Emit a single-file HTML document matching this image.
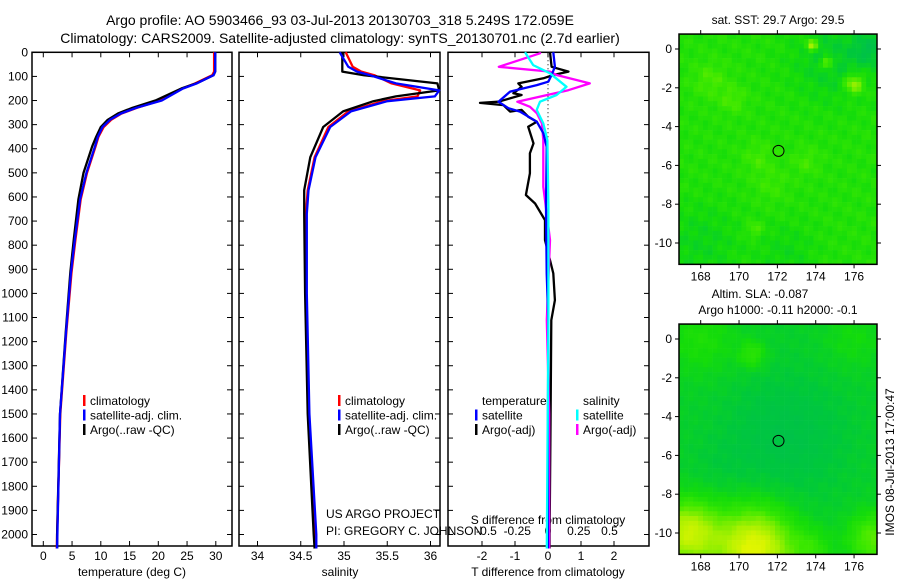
<!DOCTYPE html>
<html><head><meta charset="utf-8"><style>
body{margin:0;background:#fff;}
svg{display:block;font-family:"Liberation Sans",sans-serif;}
text{font-size:12px;fill:#000;}
</style></head><body>
<svg id="c" width="900" height="580" xmlns="http://www.w3.org/2000/svg">
<text x="340" y="25" text-anchor="middle" style="font-size:14px">Argo profile: AO 5903466_93 03-Jul-2013 20130703_318 5.249S 172.059E</text>
<text x="340" y="43" text-anchor="middle" style="font-size:14px">Climatology: CARS2009. Satellite-adjusted climatology: synTS_20130701.nc (2.7d earlier)</text>
<text x="326" y="518">US ARGO PROJECT</text>
<text x="326" y="535">PI: GREGORY C. JOHNSON</text>
<text transform="translate(894,462) rotate(-90)" text-anchor="middle">IMOS 08-Jul-2013 17:00:47</text>
<g id="maps"></g><g id="panels"></g>
</svg>
<script>
// ---- data ----
const depthTicks=[0,100,200,300,400,500,600,700,800,900,1000,1100,1200,1300,1400,1500,1600,1700,1800,1900,2000];
const tempTicks=[0,5,10,15,20,25,30];
const salTicks=[34,34.5,35,35.5,36];
const tdTicks=[-2,-1,0,1,2];
const sdTicks=[-0.5,-0.25,0,0.25,0.5];
const sdTickLabels=["-0.5","-0.25","0","0.25","0.5"];
const tDepth=[0,80,95,129,150,200,230,254,280,310,350,390,500,610,775,914,1163,1500,2000,2058];
const tArgo=[29.9,29.9,29.6,26.6,24.0,19.5,15.5,13.0,11.2,10.0,9.2,8.5,7.0,6.1,5.3,4.7,3.9,2.9,2.4,2.4];
const tClim=[29.7,29.7,29.4,26.4,24.2,20.3,16.3,13.6,11.8,10.5,9.6,9.1,7.6,6.5,5.6,4.9,4.0,2.95,2.4,2.35];
const tSat=[29.9,29.9,29.6,26.7,24.3,20.6,16.2,13.5,11.6,10.3,9.5,9.0,7.5,6.4,5.5,4.8,3.95,2.9,2.45,2.4];
const sDepth=[0,60,80,95,129,158,183,203,245,310,435,572,670,1000,1500,2000,2058];
const sArgo=[34.98,34.98,34.98,35.23,36.08,36.1,35.6,35.34,34.99,34.76,34.61,34.54,34.54,34.55,34.58,34.65,34.66];
const sClim=[35.02,35.1,35.2,35.35,35.55,35.88,35.85,35.45,35.05,34.82,34.66,34.58,34.56,34.56,34.59,34.67,34.68];
const sSat=[34.95,35.05,35.15,35.3,35.6,36.1,36.05,35.5,35.08,34.84,34.67,34.59,34.57,34.57,34.6,34.68,34.68];
const dtArgoDepth=[0,60,80,94,108,129,143,170,177,205,210,219,246,239,267,288,309,378,419,502,592,627,696,779,862,917,1028,1111,1500,2000,2058];
const dtArgo=[0.06,0.11,0.62,0.16,-0.14,-0.9,-0.8,-1.05,-0.8,-1.5,-2.06,-1.35,-1.15,-0.8,-0.6,-0.34,-0.6,-0.44,-0.55,-0.55,-0.67,-0.39,-0.09,-0.09,0.06,0.16,0.21,0.1,0.08,0.05,0.05];
const dtSatDepth=[0,60,94,122,136,163,205,232,246,288,336,392,641,917,1111,1500,2058];
const dtSat=[0.16,0.21,0.11,0.01,-0.34,-1.15,-1.5,-1.2,-0.85,-0.34,-0.14,-0.04,-0.06,-0.04,0.01,0.0,0.0];
const dsArgoDepth=[0,4,60,80,94,129,157,205,226,253,295,364,558,723,779,1111,1500,2058];
const dsArgo=[-0.065,-0.065,-0.40,0.016,0.07,0.34,0.165,-0.25,-0.146,-0.09,-0.05,-0.038,-0.038,0.003,0.016,-0.01,0.01,0.01];
const dsSatDepth=[0,53,87,143,177,205,239,295,364,641,1111,2058];
const dsSat=[-0.187,-0.12,0.016,0.15,0.07,-0.065,-0.092,-0.038,-0.005,0.003,0.003,-0.01];
const lonTicks=[168,170,172,174,176];
const latTicks=[0,-2,-4,-6,-8,-10];
const argoLon=172.059, argoLat=-5.249;

const NS="http://www.w3.org/2000/svg";
function mk(tag,attrs,parent){const e=document.createElementNS(NS,tag);for(const k in attrs)e.setAttribute(k,attrs[k]);parent.appendChild(e);return e;}
const P=document.getElementById('panels');
const top_=52.3, bot=546;
const yD=d=>top_+d*0.2411;
const panels=[{x0:32,x1:232},{x0:239,x1:440},{x0:448,x1:649}];
const xT=v=>43.3+v*5.75;
const xS=v=>257.5+(v-34)*86.5;
const xTD=v=>548+v*33;
const xSD=v=>548+v*123;

panels.forEach((p,i)=>{
  const r=mk('rect',{x:p.x0,y:top_,width:p.x1-p.x0,height:bot-top_,fill:'none',stroke:'#000','stroke-width':1.5},P);
  
  
  depthTicks.forEach(d=>{
    mk('line',{x1:p.x0,x2:p.x0+5,y1:yD(d),y2:yD(d),stroke:'#000'},P);
    mk('line',{x1:p.x1-5,x2:p.x1,y1:yD(d),y2:yD(d),stroke:'#000'},P);
  });
});
depthTicks.forEach(d=>{
  const t=mk('text',{x:28,y:yD(d)+4,'text-anchor':'end'},P);t.textContent=d;
  
  
});
function xAxis(ticks,labels,fx,y,ty){
  ticks.forEach((v,i)=>{
    const x=fx(v);
    mk('line',{x1:x,x2:x,y1:top_,y2:top_+5,stroke:'#000'},P);
    mk('line',{x1:x,x2:x,y1:bot-5,y2:bot,stroke:'#000'},P);
    const t=mk('text',{x:x,y:ty,'text-anchor':'middle'},P);t.textContent=labels?labels[i]:v;
    
    
  });
}
xAxis(tempTicks,null,xT,bot,560);
xAxis(salTicks,null,xS,bot,560);
xAxis(tdTicks,null,xTD,bot,560);
sdTicks.forEach((v,i)=>{const t=mk('text',{x:xSD(v),y:535,'text-anchor':'middle'},P);t.textContent=sdTickLabels[i];
  
  });
[[132,'temperature (deg C)','x-axis-title-temperature'],[340,'salinity','x-axis-title-salinity'],[548,'T difference from climatology','x-axis-title-t-diff']].forEach(a=>{
  const t=mk('text',{x:a[0],y:576,'text-anchor':'middle'},P);t.textContent=a[1];
  
  
});
{const t=mk('text',{x:548,y:524,'text-anchor':'middle'},P);t.textContent='S difference from climatology';

}
mk('line',{x1:548,x2:548,y1:top_,y2:bot,stroke:'#000','stroke-dasharray':'1,3'},P);

function line(ds,vs,fx,col,name,w){
  const pts=ds.map((d,i)=>fx(vs[i]).toFixed(1)+','+yD(d).toFixed(1)).join(' ');
  const l=mk('polyline',{points:pts,fill:'none',stroke:col,'stroke-width':w||2.3,'stroke-linejoin':'round'},P);
  
  
}
line(tDepth,tClim,xT,'#ff0000','temp-climatology-line');
line(tDepth,tArgo,xT,'#000000','temp-argo-line');
line(tDepth,tSat,xT,'#0000ff','temp-satellite-line');
line(sDepth,sClim,xS,'#ff0000','sal-climatology-line');
line(sDepth,sArgo,xS,'#000000','sal-argo-line');
line(sDepth,sSat,xS,'#0000ff','sal-satellite-line');
line(dtArgoDepth,dtArgo,xTD,'#000000','tdiff-argo-line');
line(dsArgoDepth,dsArgo,xSD,'#ff00ff','sdiff-argo-line');
line(dtSatDepth,dtSat,xTD,'#0000ff','tdiff-satellite-line');
line(dsSatDepth,dsSat,xSD,'#00ffff','sdiff-satellite-line');

function leg(x,y,col,txt){
  if(col){const m=mk('rect',{x:x,y:y-6,width:2.5,height:11,fill:col},P);
  
  }
  const t=mk('text',{x:x+7,y:y+4},P);t.textContent=txt;
  
  
}
[[83,'#ff0000','climatology'],[83,'#0000ff','satellite-adj. clim.'],[83,'#000','Argo(..raw -QC)']].forEach((a,i)=>leg(a[0],401+i*14.5,a[1],a[2]));
[[338,'#ff0000','climatology'],[338,'#0000ff','satellite-adj. clim.'],[338,'#000','Argo(..raw -QC)']].forEach((a,i)=>leg(a[0],401+i*14.5,a[1],a[2]));
leg(475,401,null,'temperature');leg(475,415.5,'#0000ff','satellite');leg(475,430,'#000','Argo(-adj)');
leg(576,401,null,'salinity');leg(576,415.5,'#00ffff','satellite');leg(576,430,'#ff00ff','Argo(-adj)');

// ---- maps ----
const M=document.getElementById('maps');
const xL=lon=>700.7+(lon-168)*19.17;
function cmap(v){
  const st=[[0,[0,175,110]],[0.3,[0,200,60]],[0.45,[20,220,10]],[0.6,[60,232,0]],[0.8,[160,240,0]],[1,[225,245,0]]];
  v=Math.max(0,Math.min(1,v));
  for(let i=1;i<st.length;i++){if(v<=st[i][0]){const a=st[i-1],b=st[i],f=(v-a[0])/(b[0]-a[0]);
    return 'rgb('+a[1].map((c,k)=>Math.round(c+(b[1][k]-c)*f)).join(',')+')';}}
  return 'rgb(225,245,0)';
}
function blob(lon,lat,b){return b[3]*Math.exp(-(((lon-b[0])**2)+((lat-b[1])**2))/(b[2]*b[2]));}
const sstBlobs=[[175,-0.5,2.2,-0.15],[176.8,0,0.8,-0.2],[168,-10,2,-0.1],[172.5,-10.5,1.5,-0.08],[168.5,-1.6,0.9,0.12],[169.7,-2.6,0.7,0.12],[171,-5.6,0.8,0.1],[173.5,-5.8,0.7,0.1],[171.7,-7,0.9,0.08],[170.8,-9.3,0.4,0.15],[176,-1.8,0.5,0.35],[173.8,0.2,0.3,0.4],[174.6,-0.7,0.3,0.35]];
const slaBlobs=[[172.5,-5,3,-0.12],[167.3,-10,1.6,0.55],[170.8,-10.8,2,0.65],[177,-10.3,1.3,0.3],[173.8,-10.8,1,0.15],[170.7,-0.8,0.7,0.18],[168,0,1.8,0.12],[176,0,1.5,0.08],[169,-6.5,1.5,-0.03]];
function drawMap(y0,title1,title2,blobs,base,tex,name){
  const g=mk('g',{},M);
  
  
  const yL=lat=>y0-lat*19.4;
  const top=yL(0.77), bt=yL(-11.1);
  const cs=4.8;
  for(let x=679;x<877;x+=cs){for(let y=top;y<bt;y+=cs){
    const lon=168+(x+cs/2-700.7)/19.17, lat=-(y+cs/2-y0)/19.4;
    let v=base; blobs.forEach(b=>v+=blob(lon,lat,b));
    v+=tex*Math.sin(lon*5.3+lat*1.1)*Math.cos(lat*4.7-lon*2.3);
    mk('rect',{x:x,y:y,width:Math.min(cs+0.3,877-x),height:Math.min(cs+0.3,bt-y),fill:cmap(v)},g);
  }}
  mk('rect',{x:679,y:top,width:198,height:bt-top,fill:'none',stroke:'#000','stroke-width':1.5},g);
  lonTicks.forEach(l=>{mk('line',{x1:xL(l),x2:xL(l),y1:top,y2:top-4,stroke:'#000'},g);mk('line',{x1:xL(l),x2:xL(l),y1:bt,y2:bt+4,stroke:'#000'},g);
    const t=mk('text',{x:xL(l),y:bt+16,'text-anchor':'middle'},g);t.textContent=l;
    
    });
  latTicks.forEach(l=>{mk('line',{x1:679,x2:675,y1:yL(l),y2:yL(l),stroke:'#000'},g);mk('line',{x1:877,x2:881,y1:yL(l),y2:yL(l),stroke:'#000'},g);
    const t=mk('text',{x:672,y:yL(l)+4,'text-anchor':'end'},g);t.textContent=l;
    
    });
  const c=mk('circle',{cx:xL(argoLon),cy:yL(argoLat),r:5.5,fill:'none',stroke:'#000','stroke-width':1},g);
  
  
  if(title2){const t=mk('text',{x:760,y:top-26,'text-anchor':'middle'},g);t.textContent=title1;
    
    
    const t2=mk('text',{x:778,y:top-10,'text-anchor':'middle'},g);t2.textContent=title2;
    
    }
  else{const t=mk('text',{x:778,y:top-10,'text-anchor':'middle'},g);t.textContent=title1;
    
    }
}
drawMap(49,'sat. SST: 29.7  Argo: 29.5',null,sstBlobs,0.5,0.05,'sst-map');
drawMap(339,'Altim. SLA: -0.087','Argo h1000: -0.11 h2000: -0.1',slaBlobs,0.36,0.02,'sla-map');
</script>
</body></html>
